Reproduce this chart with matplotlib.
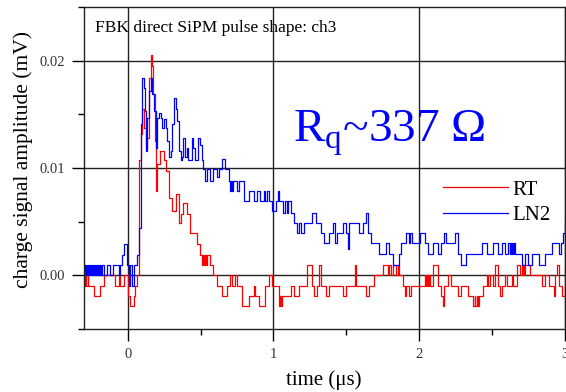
import matplotlib
matplotlib.use('Agg')
import matplotlib.pyplot as plt
from matplotlib.ticker import MultipleLocator

plt.rcParams['font.family'] = ['Liberation Serif', 'DejaVu Serif']
plt.rcParams['mathtext.fontset'] = 'custom'
plt.rcParams['mathtext.rm'] = 'Liberation Serif'

# RT trace: step breakpoints (time in us, amplitude in mV)
rt_t = [-0.30, -0.29, -0.285, -0.275, -0.27, -0.234, -0.188, -0.166, -0.085, -0.062,
        -0.050, -0.028, 0.002, 0.019, 0.041, 0.053, 0.064, 0.076, 0.088, 0.099,
        0.110, 0.122, 0.133, 0.145, 0.157, 0.168, 0.175, 0.184, 0.193, 0.202,
        0.221, 0.248, 0.260, 0.283, 0.306, 0.329, 0.352, 0.363, 0.381, 0.405,
        0.428, 0.474, 0.497, 0.51, 0.515, 0.525, 0.53, 0.54, 0.545, 0.566,
        0.588, 0.612, 0.646, 0.681, 0.703, 0.715, 0.738, 0.750, 0.784, 0.830,
        0.864, 0.876, 0.899, 0.945, 0.968, 0.991, 1.037, 1.045, 1.05, 1.058,
        1.083, 1.117, 1.140, 1.174, 1.232, 1.267, 1.279, 1.301, 1.314, 1.328,
        1.359, 1.381, 1.474, 1.497, 1.559, 1.569, 1.634, 1.657, 1.691, 1.750,
        1.784, 1.795, 1.807, 1.818, 1.841, 1.853, 1.864, 1.888, 1.899, 1.910,
        1.933, 1.945, 2.037, 2.048, 2.055, 2.06, 2.068, 2.072, 2.094, 2.129,
        2.152, 2.163, 2.172, 2.198, 2.221, 2.267, 2.290, 2.336, 2.370, 2.38,
        2.385, 2.395, 2.40, 2.41, 2.439, 2.462, 2.474, 2.485, 2.508, 2.520,
        2.543, 2.554, 2.566, 2.588, 2.600, 2.634, 2.646, 2.669, 2.692, 2.703,
        2.71, 2.715, 2.72, 2.725, 2.761, 2.841, 2.864, 2.888, 2.922, 2.933,
        2.945, 2.956, 2.979, 3.002, 3.01]
rt_v = [-0.00095, 0, -0.00095, 0, -0.00095, -0.0019, -0.00095, 0, -0.00095, 0,
        -0.00095, 0, -0.0019, -0.00285, -0.0019, -0.00095, 0, 0.0107, 0.0132, 0.0155,
        0.0137, 0.0119, 0.0128, 0.0184, 0.0205, 0.0195, 0.0169, 0.0125, 0.0079, 0.0104,
        0.0116, 0.0107, 0.0097, 0.0072, 0.0060, 0.0076, 0.0049, 0.0057, 0.0067, 0.0057,
        0.0039, 0.0029, 0.0019, 0.0010, 0.0019, 0.0010, 0.0019, 0.0010, 0.0019, 0.00095,
        0, -0.00095, -0.0019, -0.00095, 0, -0.00095, 0, -0.00095, -0.00285, -0.0019,
        -0.00095, -0.0019, -0.00285, -0.00095, 0, -0.00095, -0.00285, -0.0019, -0.00285, -0.0019,
        -0.0019, -0.00095, -0.0019, -0.00095, 0.00095, -0.00095, -0.0019, -0.00095, 0.00095, -0.00095,
        -0.0019, -0.00095, -0.0019, -0.00095, 0.00095, -0.00095, -0.0019, -0.00095, 0, 0.00095,
        0, 0.00095, 0, 0.00095, 0, 0.00095, 0, -0.00095, -0.0019, -0.00095,
        -0.0019, -0.00095, 0, -0.00095, 0, -0.00095, 0, -0.00095, 0.00095, -0.00095,
        -0.0019, -0.00285, -0.00095, 0, -0.00095, -0.0019, -0.00095, -0.0019, -0.00285, -0.0019,
        -0.00285, -0.0019, -0.00285, -0.0019, -0.00095, 0, -0.00095, 0, -0.00095, 0.00095,
        -0.00095, -0.0019, -0.00095, 0, -0.00095, 0, -0.00095, 0.00095, 0, 0.00095,
        0, 0.00095, 0, 0.00095, 0, -0.00095, 0, -0.00095, -0.0019, 0,
        0.00095, -0.00095, -0.0019, -0.00095, -0.00095]

# LN2 trace
ln2_t = [-0.300, -0.295, -0.290, -0.283, -0.278, -0.271, -0.265, -0.258, -0.252, -0.245,
         -0.239, -0.232, -0.226, -0.219, -0.213, -0.206, -0.200, -0.193, -0.187, -0.180,
         -0.174, -0.166, -0.143, -0.119, -0.101, -0.062, -0.050, -0.039, -0.028, -0.005,
         0.007, 0.019, 0.030, 0.041, 0.064, 0.076, 0.088, 0.092, 0.099, 0.110,
         0.117, 0.124, 0.133, 0.145, 0.157, 0.168, 0.179, 0.191, 0.202, 0.214,
         0.226, 0.237, 0.248, 0.260, 0.271, 0.283, 0.294, 0.306, 0.317, 0.329,
         0.340, 0.352, 0.363, 0.372, 0.381, 0.393, 0.405, 0.416, 0.439, 0.451,
         0.462, 0.485, 0.497, 0.508, 0.519, 0.531, 0.543, 0.566, 0.588, 0.612,
         0.623, 0.646, 0.669, 0.692, 0.703, 0.710, 0.715, 0.722, 0.750, 0.761,
         0.795, 0.830, 0.864, 0.888, 0.910, 0.933, 0.945, 0.957, 0.968, 0.991,
         1.014, 1.031, 1.041, 1.062, 1.076, 1.090, 1.103, 1.117, 1.140, 1.163,
         1.174, 1.186, 1.209, 1.267, 1.290, 1.324, 1.347, 1.381, 1.405, 1.421,
         1.439, 1.474, 1.497, 1.510, 1.519, 1.588, 1.612, 1.638, 1.646, 1.669,
         1.726, 1.772, 1.795, 1.818, 1.864, 1.876, 1.910, 1.930, 1.940, 1.950,
         2.002, 2.037, 2.060, 2.094, 2.129, 2.152, 2.172, 2.186, 2.243, 2.267,
         2.290, 2.324, 2.428, 2.462, 2.508, 2.543, 2.566, 2.586, 2.612, 2.620,
         2.625, 2.632, 2.637, 2.645, 2.650, 2.660, 2.703, 2.724, 2.745, 2.772,
         2.819, 2.864, 2.910, 2.957, 2.972, 2.986, 3.000, 3.010]
ln2_v = [0.00095, 0, 0.00095, 0, 0.00095, 0, 0.00095, 0, 0.00095, 0,
         0.00095, 0, 0.00095, 0, 0.00095, 0, 0.00095, 0, 0.00095, 0,
         0.00095, 0, 0.00095, 0, 0.00095, 0, 0.00095, 0.0019, 0.0029, 0.00095,
         -0.00095, 0.00095, -0.00095, 0.00095, 0.0019, 0.0044, 0.0110, 0.0141, 0.0184, 0.0175,
         0.0153, 0.0116, 0.0147, 0.0172, 0.0184, 0.0169, 0.0153, 0.0119, 0.0147, 0.0151,
         0.0147, 0.0137, 0.0146, 0.0137, 0.0125, 0.0110, 0.0116, 0.0141, 0.0165, 0.0155,
         0.0144, 0.0116, 0.0107, 0.0110, 0.0128, 0.0110, 0.0119, 0.0107, 0.0128, 0.0119,
         0.0107, 0.0128, 0.0121, 0.0107, 0.0099, 0.0088, 0.0099, 0.0088, 0.0099, 0.0092,
         0.0099, 0.0108, 0.0099, 0.0088, 0.0079, 0.0088, 0.0079, 0.0088, 0.0079, 0.0088,
         0.0069, 0.0079, 0.0069, 0.0079, 0.0069, 0.0079, 0.0069, 0.0079, 0.0069, 0.0060,
         0.0069, 0.0079, 0.0069, 0.0058, 0.0069, 0.0058, 0.0069, 0.0058, 0.0049, 0.0039,
         0.0049, 0.0039, 0.0049, 0.0058, 0.0049, 0.0039, 0.0030, 0.0039, 0.0049, 0.0030,
         0.0039, 0.0049, 0.0039, 0.0025, 0.0049, 0.0039, 0.0049, 0.0058, 0.0039, 0.0030,
         0.0020, 0.0030, 0.0020, 0.0010, 0.0020, 0.0030, 0.0039, 0.0030, 0.0039, 0.0030,
         0.0039, 0.0030, 0.0020, 0.0030, 0.0020, 0.0030, 0.0039, 0.0030, 0.0039, 0.0020,
         0.0010, 0.0020, 0.0030, 0.0020, 0.0030, 0.0020, 0.0030, 0.0020, 0.0030, 0.0020,
         0.0030, 0.0020, 0.0030, 0.0020, 0.0030, 0.0020, 0.0010, 0.0020, 0.0010, 0.0020,
         0.0010, 0.0020, 0.0030, 0.0020, 0.0030, 0.0039, 0.0049, 0.0049]

x_ticks = [0, 1, 2, 3]
y_ticks = [0.00, 0.01, 0.02]
y_tick_labels = ['0.00', '0.01', '0.02']

fig = plt.figure(figsize=(5.66, 3.92), dpi=100)
ax = fig.add_axes([0.1484, 0.1607, 0.8498, 0.8214])

ax.step(rt_t, rt_v, where='post', color='#ff0000', lw=0.9, label='RT')
ax.step(ln2_t, ln2_v, where='post', color='#0000ff', lw=0.9, label='LN2')

ax.set_xlim(-0.3, 3.0)
ax.set_ylim(-0.005, 0.025)
ax.set_xticks(x_ticks)
ax.set_yticks(y_ticks)
ax.set_yticklabels(y_tick_labels)
ax.xaxis.set_minor_locator(MultipleLocator(0.5))
ax.yaxis.set_minor_locator(MultipleLocator(0.005))
ax.tick_params(which='major', direction='out', length=8.5, width=1.0,
               labelsize=10.5, labelcolor='#333333', pad=5)
ax.tick_params(which='minor', direction='out', length=4.5, width=1.0)
ax.grid(True, which='major', color='#222222', lw=1.0)
for s in ax.spines.values():
    s.set_linewidth(1.0)
    s.set_color('#222222')

fig.text(324 / 566, 1 - 380 / 392, 'time (\u03bcs)', ha='center', va='center', fontsize=15)
fig.text(23 / 566, 1 - 160 / 392, 'charge signal amplitude (mV)', rotation=90,
         ha='center', va='center', fontsize=15.5)

ax.text(95 / 566, 1 - 32 / 392, 'FBK direct SiPM pulse shape: ch3',
        transform=fig.transFigure, ha='left', va='baseline', fontsize=12.5)
ax.text(293 / 566, 1 - 142 / 392, r'R$_\mathregular{q}$~337 ' + '\u03a9',
        transform=fig.transFigure, ha='left', va='baseline', fontsize=34, color='#0000ff')

ax.legend(loc='upper left', bbox_to_anchor=(443 / 566, 1 - 180 / 392),
          bbox_transform=fig.transFigure, frameon=False, fontsize=15,
          handlelength=3.1, handletextpad=0.25, labelspacing=0.3,
          borderpad=0, borderaxespad=0)

fig.savefig('out.png', dpi=100)
